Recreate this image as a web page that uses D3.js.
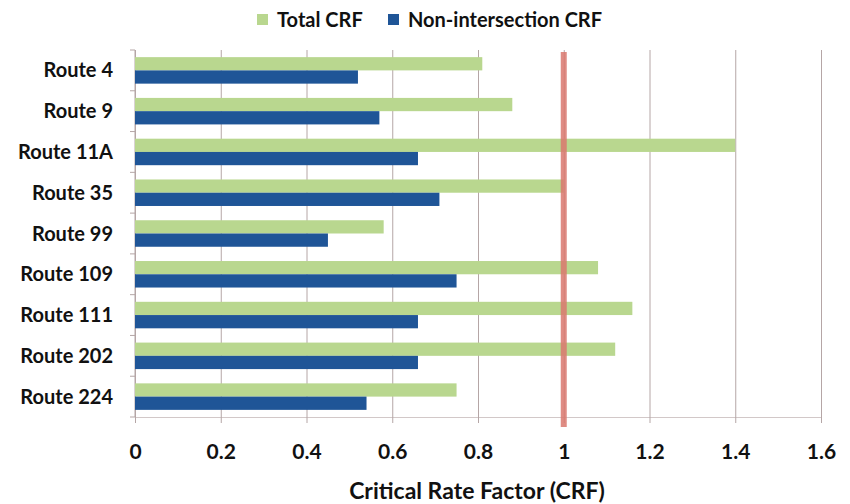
<!DOCTYPE html>
<html lang="en">
<head>
<meta charset="UTF-8">
<script src="https://d3js.org/d3.v7.min.js"></script>
<title>Critical Rate Factor by Route</title>
<style>
    body { margin: 0; background: #fff; }
    svg text { font-family: Lato, "Open Sans", sans-serif; font-weight: 700; fill: #111; }
</style>
</head>
<body>
<script>
    // data
    var routes = ["Route 4", "Route 9", "Route 11A", "Route 35", "Route 99", "Route 109", "Route 111", "Route 202", "Route 224"];
    var totalCrf = [0.81, 0.88, 1.40, 1.00, 0.58, 1.08, 1.16, 1.12, 0.75];
    var nonIntCrf = [0.52, 0.57, 0.66, 0.71, 0.45, 0.75, 0.66, 0.66, 0.54];
    var seriesNames = ["Total CRF", "Non-intersection CRF"];
    var xTicks = [0, 0.2, 0.4, 0.6, 0.8, 1, 1.2, 1.4, 1.6];
    var threshold = 1;

    var colors = ["#b9d78f", "#1f5597"];
    var width = 850, height = 504;
    // plot box (don't call it "top", that's window.top)
    var m = { left: 135, right: 821, top: 50, bottom: 417 };

    var svg = d3.select("body").append("svg")
        .attr("width", width)
        .attr("height", height);

    var x = d3.scaleLinear().domain([0, 1.6]).range([m.left, m.right]);
    var y = d3.scaleBand().domain(routes).range([m.top, m.bottom])
        .paddingInner(0.35).paddingOuter(0.175);
    var y1 = d3.scaleBand().domain(seriesNames).range([0, y.bandwidth()]);

    // vertical gridlines + x tick labels
    var xAxis = d3.axisBottom(x)
        .tickValues(xTicks)
        .tickFormat(d3.format("~g"))
        .tickSize(6)
        .tickSizeOuter(0)
        .tickPadding(21);

    var gx = svg.append("g")
        .attr("transform", "translate(0," + m.bottom + ")")
        .call(xAxis);
    gx.select(".domain").attr("stroke", "#d2c8c8");
    gx.selectAll(".tick line")
        .attr("stroke", "#b5a6a6")
        .attr("y1", -(m.bottom - m.top));
    gx.selectAll(".tick text").style("font-size", "21px");

    // left axis with ticks between categories
    var gy = svg.append("g");
    gy.append("line")
        .attr("x1", m.left).attr("x2", m.left)
        .attr("y1", m.top).attr("y2", m.bottom)
        .attr("stroke", "#b5a6a6");
    var bounds = routes.map(function (r) { return y(r) - y.step() * 0.175; });
    bounds.push(m.bottom);
    gy.selectAll(".bt")
        .data(bounds)
        .enter().append("line")
        .attr("x1", m.left - 5).attr("x2", m.left)
        .attr("y1", function (d) { return d; })
        .attr("y2", function (d) { return d; })
        .attr("stroke", "#b5a6a6");
    gy.selectAll(".lab")
        .data(routes)
        .enter().append("text")
        .attr("x", 113)
        .attr("y", function (d) { return y(d) + y.bandwidth() / 2; })
        .attr("dy", "0.35em")
        .attr("text-anchor", "end")
        .style("font-size", "20px")
        .text(function (d) { return d; });

    // bars
    var rows = routes.map(function (r, i) {
        return { route: r, vals: [totalCrf[i], nonIntCrf[i]] };
    });
    var grp = svg.selectAll(".row")
        .data(rows)
        .enter().append("g")
        .attr("transform", function (d) { return "translate(0," + y(d.route) + ")"; });
    grp.selectAll("rect")
        .data(function (d) { return d.vals.map(function (v, k) { return { s: seriesNames[k], v: v, k: k }; }); })
        .enter().append("rect")
        .attr("x", x(0))
        .attr("y", function (d) { return y1(d.s); })
        .attr("width", function (d) { return x(d.v) - x(0); })
        .attr("height", y1.bandwidth())
        .attr("fill", function (d) { return colors[d.k]; });

    // threshold line at CRF = 1
    svg.append("line")
        .attr("x1", x(threshold)).attr("x2", x(threshold))
        .attr("y1", m.top + 2).attr("y2", m.bottom + 10)
        .attr("stroke", "#d9786f")
        .attr("stroke-opacity", 0.85)
        .attr("stroke-width", 6);

    // axis title
    svg.append("text")
        .attr("x", 477)
        .attr("y", 499)
        .attr("text-anchor", "middle")
        .style("font-size", "23px")
        .text("Critical Rate Factor (CRF)");

    // legend
    var legX = [257, 388];
    var leg = svg.selectAll(".leg")
        .data(seriesNames)
        .enter().append("g")
        .attr("transform", function (d, i) { return "translate(" + legX[i] + ",14)"; });
    leg.append("rect")
        .attr("width", 11).attr("height", 11)
        .attr("fill", function (d, i) { return colors[i]; });
    leg.append("text")
        .attr("x", 20).attr("y", 5.5)
        .attr("dy", "0.35em")
        .style("font-size", "20px")
        .text(function (d) { return d; });
</script>
</body>
</html>
